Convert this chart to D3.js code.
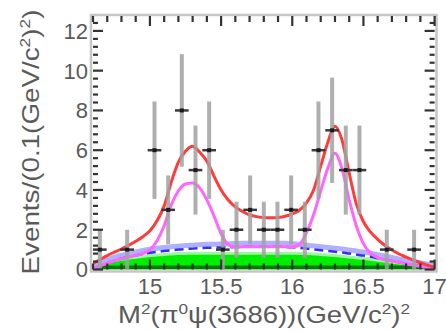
<!DOCTYPE html>
<html><head><meta charset="utf-8">
<script src="https://cdn.jsdelivr.net/npm/d3@7"></script>
<style>body{margin:0;background:#fff}svg{display:block}</style>
</head><body>
<svg id="c" width="446" height="332"></svg>
<script>
// ---- data ----
const binCenters = [14.648,14.744,14.840,14.936,15.032,15.128,15.224,15.320,15.416,15.512,15.608,15.704,15.800,15.896,15.992,16.088,16.184,16.280,16.376,16.472,16.568,16.664,16.760,16.856,16.952];
const counts     = [1,0,1,0,6,3,8,5,6,1,2,3,2,2,3,2,6,7,5,5,0,1,0,1,0];
const errs       = [1,0,1,0,2.45,1.73,2.83,2.24,2.45,1,1.41,1.73,1.41,1.41,1.73,1.41,2.45,2.65,2.24,2.24,0,1,0,1,0];
const binWidth = 0.096;

const xGrid = [14.60,14.65,14.70,14.75,14.80,14.85,14.90,14.95,15.00,15.05,15.10,15.15,15.20,15.25,15.30,15.35,15.40,15.45,15.50,15.55,15.60,15.65,15.70,15.75,15.80,15.85,15.90,15.95,16.00,16.05,16.10,16.15,16.20,16.25,16.30,16.35,16.40,16.45,16.50,16.55,16.60,16.65,16.70,16.75,16.80,16.85,16.90,16.95,17.00];
const totalFit = [0.30,0.50,0.70,0.87,1.03,1.22,1.42,1.65,1.95,2.45,3.20,4.40,5.40,5.95,6.20,5.90,5.45,4.70,4.00,3.50,3.15,2.92,2.75,2.66,2.61,2.60,2.62,2.68,2.80,2.98,3.35,4.00,5.20,6.40,7.20,6.50,4.85,3.30,2.40,1.88,1.52,1.22,0.98,0.78,0.62,0.47,0.34,0.22,0.10];
const signalFit = [0.05,0.18,0.32,0.44,0.54,0.63,0.71,0.80,1.00,1.45,2.20,3.25,3.95,4.30,4.35,4.10,3.50,2.70,1.80,1.25,1.13,1.14,1.15,1.15,1.15,1.15,1.15,1.14,1.13,1.25,1.85,2.75,3.95,5.10,5.85,5.05,3.50,2.20,1.30,0.82,0.60,0.50,0.43,0.36,0.29,0.22,0.16,0.09,0.03];
const bkgFit = [0.05,0.18,0.32,0.44,0.54,0.63,0.71,0.78,0.84,0.89,0.93,0.97,1.00,1.03,1.05,1.07,1.09,1.10,1.11,1.12,1.13,1.14,1.15,1.15,1.15,1.15,1.15,1.14,1.12,1.09,1.05,1.01,0.97,0.93,0.89,0.85,0.80,0.75,0.70,0.64,0.57,0.50,0.43,0.36,0.29,0.22,0.16,0.09,0.03];
const greenBkg = [0.28,0.34,0.40,0.46,0.52,0.57,0.62,0.66,0.70,0.73,0.76,0.78,0.80,0.81,0.82,0.82,0.82,0.82,0.82,0.82,0.82,0.82,0.82,0.82,0.82,0.82,0.82,0.82,0.82,0.81,0.80,0.78,0.76,0.73,0.70,0.67,0.63,0.59,0.55,0.51,0.46,0.42,0.37,0.33,0.28,0.23,0.18,0.14,0.10];
const darkBkg = [0.20,0.20,0.20,0.20,0.20,0.20,0.20,0.20,0.20,0.20,0.20,0.20,0.20,0.20,0.20,0.20,0.20,0.20,0.20,0.20,0.20,0.20,0.20,0.20,0.20,0.20,0.20,0.20,0.20,0.20,0.20,0.20,0.20,0.20,0.20,0.20,0.20,0.20,0.20,0.20,0.20,0.20,0.20,0.20,0.20,0.18,0.15,0.12,0.10];

const xMajor = [15, 15.5, 16, 16.5, 17];
const xLabels = ["15", "15.5", "16", "16.5", "17"];
const yMajor = [0, 2, 4, 6, 8, 10, 12];
const yLabels = ["0", "2", "4", "6", "8", "10", "12"];

// ---- drawing ----
const svg = d3.select("#c");
const font = "'Liberation Sans', Arial, sans-serif";
const x = d3.scaleLinear().domain([14.6, 17.0]).range([93, 434.6]);
const y = d3.scaleLinear().domain([0, 12.75]).range([269.5, 16]);
const X0 = x(14.6), X1 = x(17), Y0 = y(0), Y1 = y(12.75);

svg.append("rect").attr("width",446).attr("height",332).attr("fill","#fff");

const pts = arr => xGrid.map((d,i)=>[d, arr[i]]);
const area = d3.area().x(d=>x(d[0])).y0(Y0).y1(d=>y(d[1])).curve(d3.curveMonotoneX);
const line = d3.line().x(d=>x(d[0])).y(d=>y(d[1])).curve(d3.curveMonotoneX);

svg.append("clipPath").attr("id","pc").append("rect")
  .attr("x",X0).attr("y",Y1).attr("width",X1-X0).attr("height",Y0-Y1);
const g = svg.append("g").attr("clip-path","url(#pc)");

g.append("path").attr("d", area(pts(greenBkg))).attr("fill","#00ee00");
g.append("path").attr("d", line(pts(greenBkg))).attr("fill","none").attr("stroke","#a0f5a0").attr("stroke-width",3);
g.append("path").attr("d", area(pts(darkBkg))).attr("fill","#007a00");

// blue background: light band + dashed line
g.append("path").attr("d", line(pts(bkgFit))).attr("fill","none").attr("stroke","#b0b0ff")
  .attr("stroke-width",5).attr("transform","translate(0,-3.5)");
g.append("path").attr("d", line(pts(bkgFit))).attr("fill","none").attr("stroke","#3030ee")
  .attr("stroke-width",2.5).attr("stroke-dasharray","9,5");

g.append("path").attr("d", line(pts(signalFit))).attr("fill","none").attr("stroke","#ff66ff").attr("stroke-width",3);
g.append("path").attr("d", line(pts(totalFit))).attr("fill","none").attr("stroke","#ff3b3b").attr("stroke-width",3);

// data points
const data = binCenters.map((c,i)=>({c, n:counts[i], e:errs[i]})).filter(d=>d.n>0);
const dg = svg.append("g");
dg.selectAll("line.ev").data(data).join("line").attr("class","ev")
  .attr("x1",d=>x(d.c)).attr("x2",d=>x(d.c))
  .attr("y1",d=>y(d.n-d.e)).attr("y2",d=>y(d.n+d.e))
  .attr("stroke","#a2a2a2").attr("stroke-width",4).attr("opacity",0.85);
dg.selectAll("line.eh").data(data).join("line").attr("class","eh")
  .attr("x1",d=>x(d.c-binWidth/2)).attr("x2",d=>x(d.c+binWidth/2))
  .attr("y1",d=>y(d.n)).attr("y2",d=>y(d.n))
  .attr("stroke","#3a3a3a").attr("stroke-width",2.5);
dg.selectAll("rect.m").data(data).join("rect").attr("class","m")
  .attr("x",d=>x(d.c)-2).attr("y",d=>y(d.n)-2).attr("width",4).attr("height",4).attr("fill","#1a1a1a");

// frame
svg.append("rect").attr("x",91).attr("y",15).attr("width",345.5).attr("height",256.5)
  .attr("fill","none").attr("stroke","#c6c6c6").attr("stroke-width",2.5);

// ticks drawn from the scales
const xMinor = d3.range(14.6, 17.0001, 0.1).filter(v=>!xMajor.some(m=>Math.abs(m-v)<1e-6));
const yMinor = d3.range(0, 12.75, 0.4).filter(v=>!yMajor.some(m=>Math.abs(m-v)<1e-6));
const tk = svg.append("g").attr("stroke","#333").attr("stroke-width",2.2);
const xTicks = [...xMajor.map(v=>({v,L:10})), ...xMinor.map(v=>({v,L:6}))];
const yTicks = [...yMajor.map(v=>({v,L:10})), ...yMinor.map(v=>({v,L:5}))];
xTicks.forEach(t=>{
  tk.append("line").attr("x1",x(t.v)).attr("x2",x(t.v)).attr("y1",Y0).attr("y2",Y0-t.L);
  tk.append("line").attr("x1",x(t.v)).attr("x2",x(t.v)).attr("y1",Y1).attr("y2",Y1+t.L);
});
yTicks.forEach(t=>{
  tk.append("line").attr("x1",X0).attr("x2",X0+t.L).attr("y1",y(t.v)).attr("y2",y(t.v));
  tk.append("line").attr("x1",X1).attr("x2",X1-t.L).attr("y1",y(t.v)).attr("y2",y(t.v));
});

// tick labels
svg.append("g").selectAll("text").data(xMajor).join("text")
  .attr("x",d=>x(d)).attr("y",Y0+24).attr("text-anchor","middle")
  .attr("font-family",font).attr("font-size",22).attr("fill","#5a5a5a")
  .text((d,i)=>xLabels[i]);
svg.append("g").selectAll("text").data(yMajor).join("text")
  .attr("x",X0-5).attr("y",d=>y(d)).attr("dy","0.36em").attr("text-anchor","end")
  .attr("font-family",font).attr("font-size",22).attr("fill","#5a5a5a")
  .text((d,i)=>yLabels[i]);

// titles
const xT = svg.append("text").attr("x",264).attr("y",323).attr("text-anchor","middle")
  .attr("font-family",font).attr("font-size",24).attr("fill","#5a5a5a")
  .attr("textLength",292).attr("lengthAdjust","spacingAndGlyphs");
xT.append("tspan").text("M");
xT.append("tspan").attr("dy",-9).attr("font-size",15).text("2");
xT.append("tspan").attr("dy",9).text("(π");
xT.append("tspan").attr("dy",-9).attr("font-size",15).text("0");
xT.append("tspan").attr("dy",9).text("ψ(3686))(GeV/c");
xT.append("tspan").attr("dy",-9).attr("font-size",15).text("2");
xT.append("tspan").attr("dy",9).text(")");
xT.append("tspan").attr("dy",-9).attr("font-size",15).text("2");

const yT = svg.append("text").attr("transform","translate(39,142) rotate(-90)").attr("text-anchor","middle")
  .attr("font-family",font).attr("font-size",24).attr("fill","#5a5a5a")
  .attr("textLength",265).attr("lengthAdjust","spacingAndGlyphs");
yT.append("tspan").text("Events/(0.1(GeV/c");
yT.append("tspan").attr("dy",-9).attr("font-size",15).text("2");
yT.append("tspan").attr("dy",9).text(")");
yT.append("tspan").attr("dy",-9).attr("font-size",15).text("2");
yT.append("tspan").attr("dy",9).text(")");
</script>
</body></html>
